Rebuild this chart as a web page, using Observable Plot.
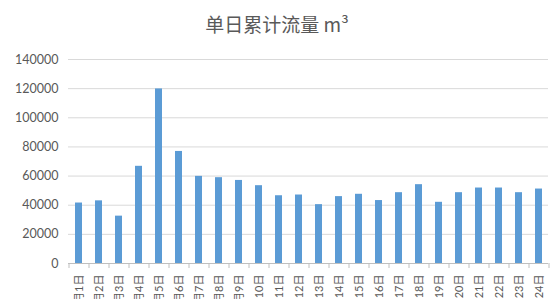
<!DOCTYPE html>
<html>
<head>
<meta charset="utf-8">
<script src="https://cdn.jsdelivr.net/npm/d3@7"></script>
<script src="https://cdn.jsdelivr.net/npm/@observablehq/plot@0.6"></script>
<style>
  html, body { margin: 0; padding: 0; background: #fff; overflow: hidden; }
  #title { width: 554px; height: 40px; line-height: 47px; text-align: center;
    font-family: "Noto Sans CJK SC", sans-serif; font-size: 19px; color: #595959; }
  #chart svg { display: block; }
</style>
</head>
<body>
<div id="title">单日累计流量 m³</div>
<div id="chart"></div>
<script>
const month = "5月";
const days = ["1日","2日","3日","4日","5日","6日","7日","8日","9日","10日","11日","12日","13日","14日","15日","16日","17日","18日","19日","20日","21日","22日","23日","24日"];
const values = [41500, 43000, 32500, 66700, 119800, 76900, 59800, 58900, 57000, 53400, 46500, 47000, 40400, 45900, 47500, 43200, 48600, 54100, 42000, 48600, 51800, 51800, 48600, 51100];
const yTicks = [0, 20000, 40000, 60000, 80000, 100000, 120000, 140000];

const labels = days.map(d => month + d);
const data = labels.map((l, i) => ({label: l, value: values[i]}));

const chart = Plot.plot({
  width: 554,
  height: 259,
  marginTop: 19,
  marginBottom: 36,
  marginLeft: 68,
  marginRight: 6,
  style: {fontFamily: "Lato, 'Noto Sans CJK SC', sans-serif", color: "#595959", background: "#fff"},
  x: {domain: labels, paddingInner: 0.65, paddingOuter: 0.325, axis: null},
  y: {domain: [0, 140000], axis: null},
  marks: [
    Plot.gridY(yTicks.slice(1), {stroke: "#D9D9D9", strokeOpacity: 1, strokeWidth: 1}),
    Plot.barY(data, {x: "label", y: "value", fill: "#5B9BD5"}),
    Plot.ruleY([0], {stroke: "#BFBFBF"}),
    Plot.axisY({ticks: yTicks, tickSize: 0, tickPadding: 10, fontSize: 12.5, fill: "#595959", tickFormat: d => String(d), label: null}),
    Plot.axisX({ticks: labels, tickSize: 5, text: null, dx: -10, stroke: "#BFBFBF", strokeOpacity: 1, label: null}),
    Plot.axisX({ticks: labels.slice(-1), tickSize: 5, text: null, dx: 10, stroke: "#BFBFBF", strokeOpacity: 1, label: null}),
    Plot.axisX({ticks: labels, tickSize: 0, tickPadding: 11, tickRotate: -90, fontSize: 11, fill: "#595959", fontFamily: "Lato, 'Noto Sans CJK SC', sans-serif", label: null})
  ]
});
document.getElementById("chart").appendChild(chart);
</script>
</body>
</html>
